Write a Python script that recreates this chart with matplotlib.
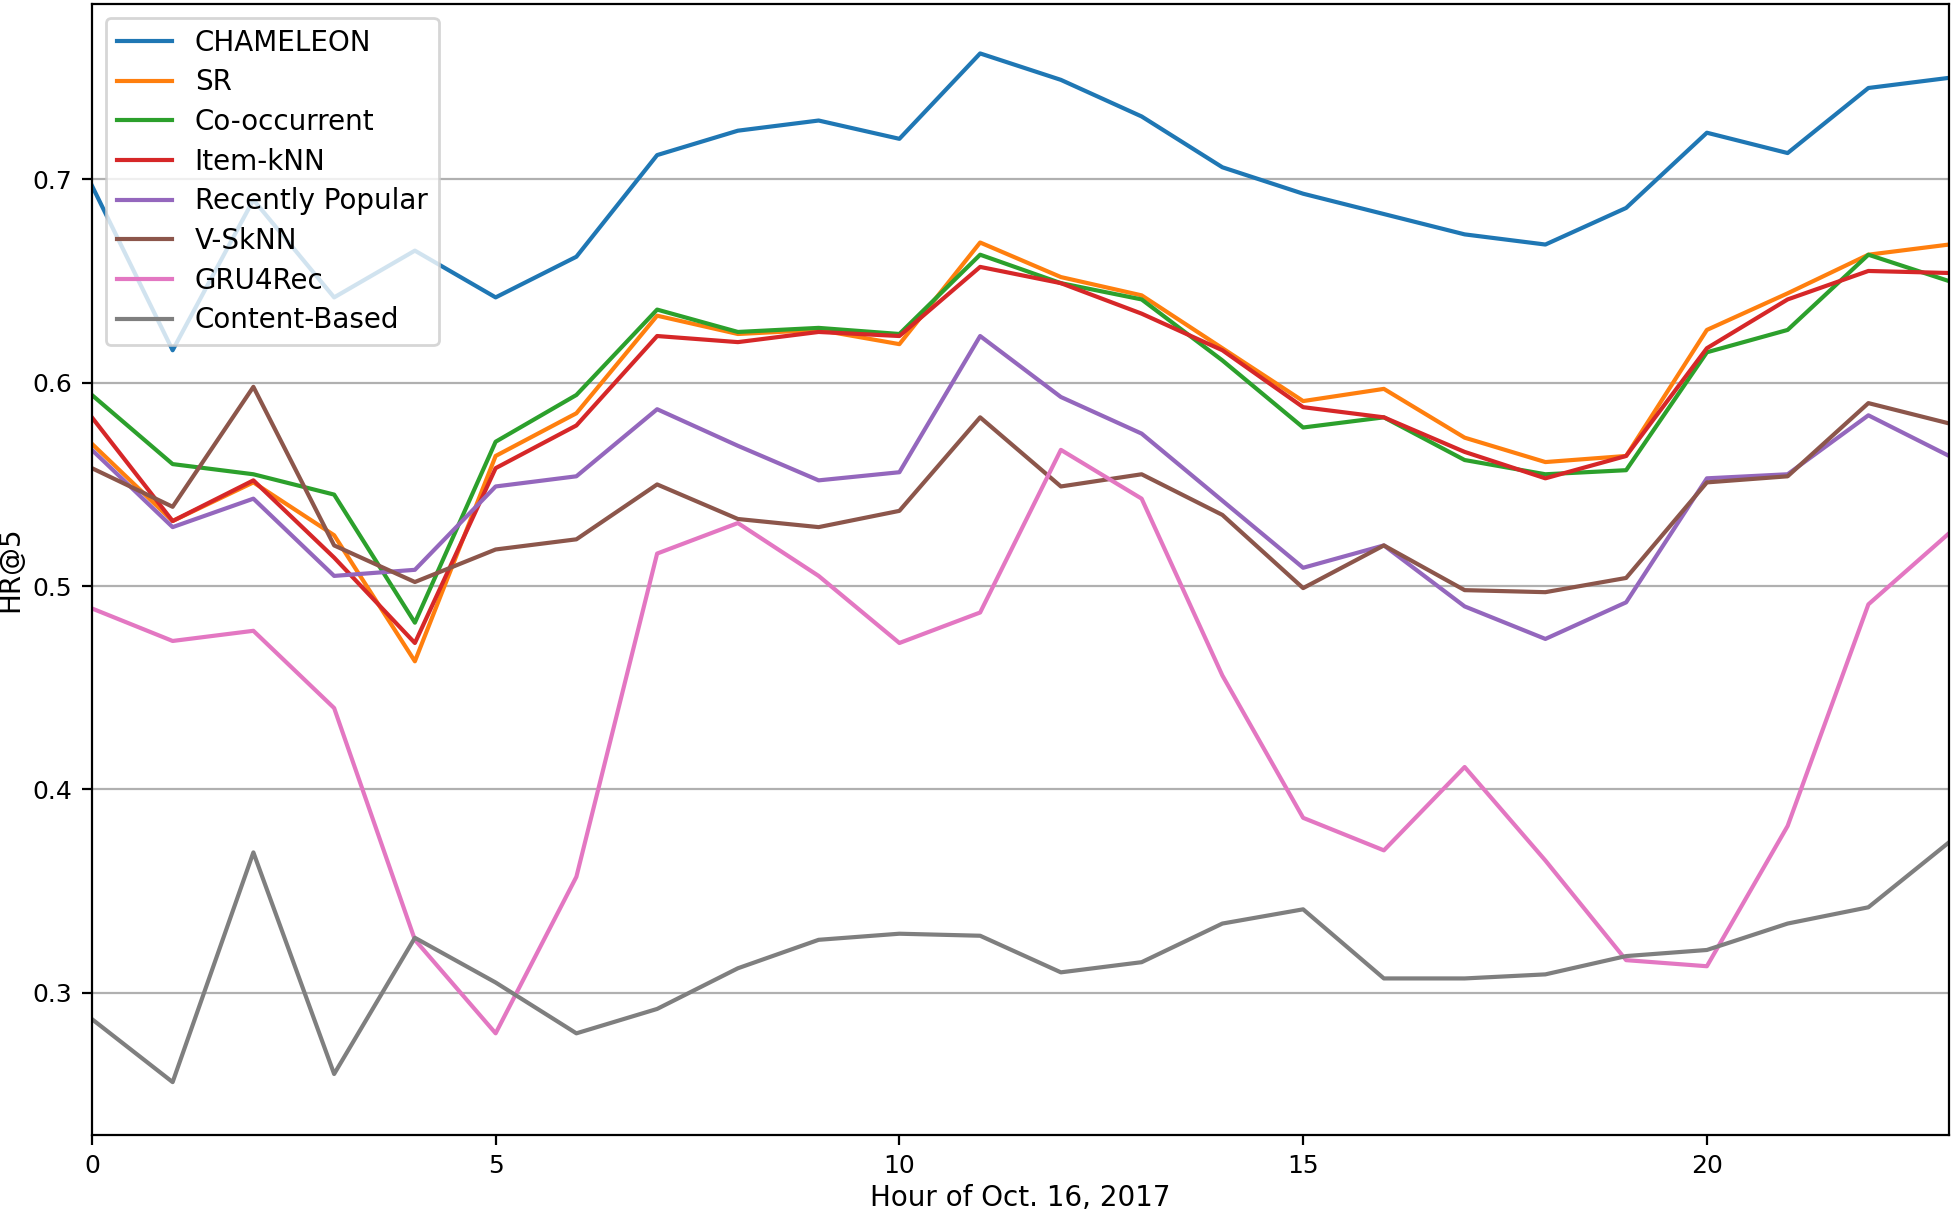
import matplotlib
matplotlib.use('Agg')
import matplotlib.pyplot as plt

hours = list(range(24))

chameleon = [0.697, 0.616, 0.690, 0.642, 0.665, 0.642, 0.662, 0.712, 0.724, 0.729, 0.720, 0.762,
             0.749, 0.731, 0.706, 0.693, 0.683, 0.673, 0.668, 0.686, 0.723, 0.713, 0.745, 0.750]
sr = [0.570, 0.532, 0.551, 0.525, 0.463, 0.564, 0.585, 0.633, 0.624, 0.626, 0.619, 0.669,
      0.652, 0.643, 0.617, 0.591, 0.597, 0.573, 0.561, 0.564, 0.626, 0.644, 0.663, 0.668]
co_occurrent = [0.594, 0.560, 0.555, 0.545, 0.482, 0.571, 0.594, 0.636, 0.625, 0.627, 0.624, 0.663,
                0.649, 0.641, 0.611, 0.578, 0.583, 0.562, 0.555, 0.557, 0.615, 0.626, 0.663, 0.650]
item_knn = [0.583, 0.532, 0.552, 0.514, 0.472, 0.558, 0.579, 0.623, 0.620, 0.625, 0.623, 0.657,
            0.649, 0.634, 0.616, 0.588, 0.583, 0.566, 0.553, 0.564, 0.617, 0.641, 0.655, 0.654]
recently_popular = [0.567, 0.529, 0.543, 0.505, 0.508, 0.549, 0.554, 0.587, 0.569, 0.552, 0.556, 0.623,
                    0.593, 0.575, 0.542, 0.509, 0.520, 0.490, 0.474, 0.492, 0.553, 0.555, 0.584, 0.564]
v_sknn = [0.558, 0.539, 0.598, 0.520, 0.502, 0.518, 0.523, 0.550, 0.533, 0.529, 0.537, 0.583,
          0.549, 0.555, 0.535, 0.499, 0.520, 0.498, 0.497, 0.504, 0.551, 0.554, 0.590, 0.580]
gru4rec = [0.489, 0.473, 0.478, 0.440, 0.326, 0.280, 0.357, 0.516, 0.531, 0.505, 0.472, 0.487,
           0.567, 0.543, 0.456, 0.386, 0.370, 0.411, 0.365, 0.316, 0.313, 0.382, 0.491, 0.526]
content_based = [0.287, 0.256, 0.369, 0.260, 0.327, 0.305, 0.280, 0.292, 0.312, 0.326, 0.329, 0.328,
                 0.310, 0.315, 0.334, 0.341, 0.307, 0.307, 0.309, 0.318, 0.321, 0.334, 0.342, 0.374]

series = [
    ('CHAMELEON', chameleon),
    ('SR', sr),
    ('Co-occurrent', co_occurrent),
    ('Item-kNN', item_knn),
    ('Recently Popular', recently_popular),
    ('V-SkNN', v_sknn),
    ('GRU4Rec', gru4rec),
    ('Content-Based', content_based),
]

fig, ax = plt.subplots(figsize=(9.775, 6.05), dpi=200)
for name, vals in series:
    ax.plot(hours, vals, label=name)

ax.set_xlim(0, 23)
ax.set_ylim(0.230, 0.7865)
ax.set_yticks([0.3, 0.4, 0.5, 0.6, 0.7])
ax.tick_params(labelsize=9)
ax.yaxis.grid(True)
ax.set_xlabel('Hour of Oct. 16, 2017', labelpad=2)
ax.set_ylabel('HR@5', labelpad=3)
ax.legend(loc='upper left', labelspacing=0.42)

plt.subplots_adjust(left=0.047, right=0.997, top=0.997, bottom=0.062)
plt.savefig('out.png', dpi=200)
